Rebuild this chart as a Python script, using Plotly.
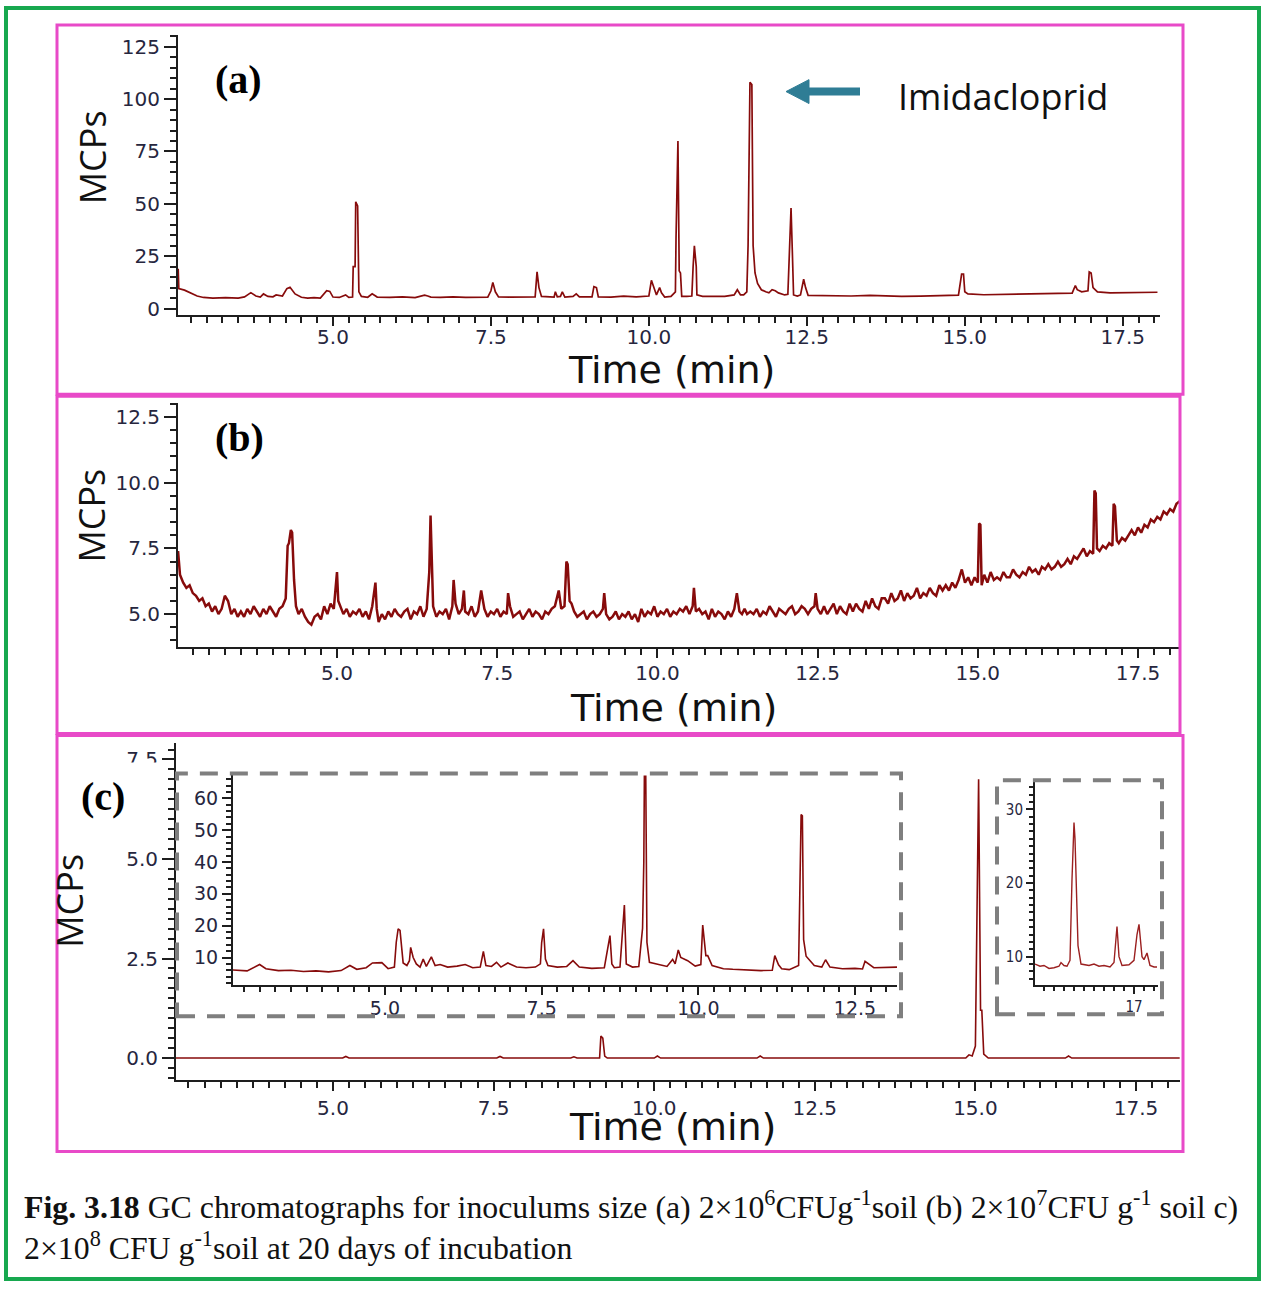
import plotly.graph_objects as go

# ---------------- data ----------------
# Panel (a): 2x10^6 CFU/g soil
a_time = [2.55, 2.56, 2.65, 2.75, 2.85, 2.95, 3.1, 3.3, 3.5, 3.6,
          3.7, 3.78, 3.85, 3.9, 3.97, 4.05, 4.1, 4.2, 4.27, 4.32,
          4.4, 4.5, 4.6, 4.7, 4.8, 4.9, 4.95, 5.0, 5.1, 5.2,
          5.25, 5.31, 5.32, 5.35, 5.36, 5.39, 5.41, 5.45, 5.55, 5.62,
          5.7, 5.9, 6.1, 6.3, 6.45, 6.5, 6.55, 6.7, 6.9, 7.1,
          7.3, 7.45, 7.5, 7.53, 7.57, 7.62, 7.8, 8.0, 8.1, 8.2,
          8.23, 8.26, 8.3, 8.5, 8.52, 8.55, 8.6, 8.63, 8.67, 8.8,
          8.85, 8.9, 9.1, 9.13, 9.17, 9.2, 9.4, 9.6, 9.8, 10.0,
          10.04, 10.08, 10.12, 10.17, 10.2, 10.25, 10.35, 10.42, 10.43, 10.46,
          10.48, 10.5, 10.52, 10.6, 10.68, 10.7, 10.72, 10.75, 10.76, 10.85,
          11.0, 11.2, 11.35, 11.4, 11.45, 11.5, 11.55, 11.57, 11.6, 11.63,
          11.65, 11.68, 11.72, 11.78, 11.85, 11.9, 11.95, 12.0, 12.05, 12.15,
          12.2, 12.22, 12.25, 12.27, 12.29, 12.35, 12.4, 12.45, 12.48, 12.52,
          12.7, 12.95, 13.2, 13.5, 13.8, 14.0, 14.3, 14.6, 14.9, 14.95,
          14.98, 15.0, 15.05, 15.3, 15.6, 15.9, 16.2, 16.5, 16.7, 16.75,
          16.78, 16.85, 16.95, 16.97, 17.0, 17.03, 17.1, 17.3, 17.6, 17.9,
          18.05]
a_mcps = [19, 9.5, 8.8, 7.5, 6.0, 5.3, 5.0, 5.2, 5.0, 5.6,
          7.6, 6.0, 5.5, 7.0, 5.8, 5.6, 6.5, 6.0, 9.5, 10.2,
          7.0, 5.4, 5.0, 5.2, 5.0, 8.5, 8.2, 5.5, 5.3, 6.5,
          5.3, 5.5, 20, 20, 51, 49, 8, 5.8, 5.4, 7.0,
          5.5, 5.3, 5.6, 5.2, 6.4, 6.0, 5.5, 5.3, 5.6, 5.3,
          5.6, 5.5, 8.5, 12.5, 8, 5.6, 5.5, 5.6, 5.3, 5.6,
          17.5, 10, 5.8, 5.5, 8.0, 5.6, 5.8, 8.0, 5.5, 5.8,
          7.0, 5.6, 5.6, 10.5, 10, 5.6, 5.5, 5.9, 5.6, 6.0,
          13.5, 10, 6.5, 10, 7.5, 5.5, 5.8, 8, 34, 80,
          18, 17, 5.8, 5.8, 6, 20, 30, 20, 6.5, 5.8,
          5.8, 5.8, 6.5, 9, 6.5, 6.5, 8, 30, 108, 107,
          30, 17, 12, 9, 8, 7.5, 9, 8.5, 7.5, 6.5,
          6.8, 28, 48, 28, 6.5, 6.0, 6.5, 14, 10, 6.3,
          6.2, 6.4, 6.0, 6.3, 6.0, 5.8, 5.9, 6.0, 6.4, 16.5,
          16.5, 8, 7.0, 6.6, 6.8, 7.0, 7.1, 7.3, 7.4, 11,
          9, 8, 8.5, 17.5, 17, 10, 8.0, 7.5, 7.5, 7.5,
          7.8]

# Panel (b): 2x10^7 CFU/g soil (noisy baseline, read segment by segment)
b_time = [2.52, 2.55, 2.60, 2.65, 2.70, 2.75, 2.80, 2.85, 2.90, 2.95, 3.00, 3.05, 3.10, 3.15, 3.20, 3.25, 3.30, 3.35, 3.40, 3.45,
          3.50, 3.55, 3.60, 3.65, 3.70, 3.75, 3.80, 3.85, 3.90, 3.95, 4.00, 4.05, 4.10, 4.15, 4.20, 4.23, 4.25, 4.28, 4.30, 4.33, 4.36, 4.40, 4.45,
          4.50, 4.55, 4.60, 4.65, 4.70, 4.75, 4.80, 4.85, 4.90, 4.95, 4.98, 5.00, 5.02, 5.05, 5.10, 5.15, 5.20, 5.25, 5.30, 5.35, 5.40, 5.45,
          5.50, 5.55, 5.58, 5.60, 5.62, 5.65, 5.70, 5.75, 5.80, 5.85, 5.90, 5.95, 6.00, 6.05, 6.10, 6.15, 6.20, 6.25, 6.30, 6.35, 6.40, 6.44, 6.46, 6.48, 6.50,
          6.55, 6.60, 6.65, 6.70, 6.75, 6.80, 6.82, 6.85, 6.90, 6.95, 6.98, 7.00, 7.05, 7.10, 7.15, 7.20, 7.25, 7.30, 7.35, 7.40, 7.45,
          7.50, 7.55, 7.60, 7.65, 7.67, 7.70, 7.75, 7.80, 7.85, 7.90, 7.95, 8.00, 8.05, 8.10, 8.15, 8.20, 8.25, 8.30, 8.35, 8.40, 8.46, 8.50,
          8.55, 8.58, 8.60, 8.63, 8.66, 8.70, 8.75, 8.80, 8.85, 8.90, 8.95, 9.00, 9.05, 9.10, 9.15, 9.17, 9.20, 9.25, 9.30, 9.35, 9.40, 9.45,
          9.50, 9.55, 9.60, 9.65, 9.70, 9.75, 9.80, 9.85, 9.90, 9.95, 10.00, 10.05, 10.10, 10.15, 10.20, 10.25, 10.30, 10.35, 10.40, 10.45, 10.50,
          10.55, 10.57, 10.60, 10.65, 10.70, 10.75, 10.80, 10.85, 10.90, 10.95, 11.00, 11.05, 11.10, 11.15, 11.20, 11.24, 11.28, 11.32, 11.36, 11.40, 11.45,
          11.50, 11.55, 11.60, 11.65, 11.70, 11.75, 11.80, 11.85, 11.90, 11.95, 12.00, 12.05, 12.10, 12.15, 12.20, 12.25, 12.30, 12.35, 12.40, 12.45, 12.47, 12.50,
          12.55, 12.60, 12.65, 12.70, 12.75, 12.80, 12.85, 12.90, 12.95, 13.00, 13.05, 13.10, 13.15, 13.20, 13.25, 13.30, 13.35, 13.40, 13.45, 13.50,
          13.55, 13.60, 13.65, 13.70, 13.75, 13.80, 13.85, 13.90, 13.95, 14.00, 14.05, 14.10, 14.15, 14.20, 14.25, 14.30, 14.35, 14.40, 14.45, 14.50,
          14.55, 14.60, 14.65, 14.70, 14.75, 14.80, 14.85, 14.90, 14.95, 15.00, 15.02, 15.04, 15.06, 15.10, 15.15, 15.20, 15.25, 15.30, 15.35, 15.40, 15.45,
          15.50, 15.55, 15.60, 15.65, 15.70, 15.75, 15.80, 15.85, 15.90, 15.95, 16.00, 16.05, 16.10, 16.15, 16.20, 16.25, 16.30, 16.35, 16.40, 16.45,
          16.50, 16.55, 16.60, 16.65, 16.70, 16.75, 16.80, 16.82, 16.84, 16.86, 16.90, 16.95, 17.00, 17.05, 17.10, 17.12, 17.14, 17.17, 17.20, 17.25, 17.30, 17.35, 17.40, 17.45,
          17.50, 17.55, 17.60, 17.65, 17.70, 17.75, 17.80, 17.85, 17.90, 17.95, 18.00, 18.05, 18.10, 18.15]
b_mcps = [7.4, 6.5, 6.2, 6.0, 6.1, 5.8, 5.7, 5.5, 5.6, 5.3, 5.4, 5.1, 5.3, 5.0, 5.2, 5.7, 5.5, 5.0, 5.2, 4.9,
          5.1, 4.9, 5.2, 5.0, 5.3, 5.1, 4.9, 5.2, 5.0, 5.3, 5.1, 4.9, 5.2, 5.3, 5.6, 7.6, 7.7, 8.2, 8.1, 6.3, 5.3, 5.0, 5.2,
          4.9, 4.7, 4.6, 4.9, 5.0, 4.8, 5.3, 5.0, 5.4, 5.2, 6.0, 6.6, 5.5, 5.3, 5.0, 5.2, 4.9, 5.1, 5.0, 5.2, 4.9, 5.1,
          4.8, 5.3, 5.9, 6.2, 5.2, 4.7, 5.0, 4.8, 5.1, 4.9, 5.2, 5.0, 4.9, 5.1, 5.2, 4.8, 5.1, 5.0, 5.3, 4.9, 5.2, 6.6, 8.75, 6.6, 5.3,
          4.9, 5.1, 5.0, 5.2, 4.8, 5.3, 6.3, 5.4, 5.0, 5.2, 5.9, 5.1, 5.0, 5.3, 4.9, 5.1, 5.9, 5.2, 4.9, 5.1, 5.0,
          5.2, 4.9, 5.1, 5.0, 5.8, 5.3, 4.9, 5.0, 5.1, 4.8, 5.0, 5.2, 4.9, 5.1, 5.0, 4.8, 5.1, 5.0, 5.2, 5.3, 5.9, 5.2,
          5.3, 7.0, 6.9, 5.5, 5.4, 5.1, 4.9, 5.0, 5.1, 4.8, 5.0, 5.1, 4.9, 5.0, 5.2, 5.8, 5.0, 4.8, 4.9, 5.1, 4.8, 5.0,
          4.9, 5.1, 4.8, 5.0, 4.7, 5.2, 4.9, 5.1, 5.0, 5.3, 4.9, 5.1, 5.0, 5.2, 4.9, 5.1, 5.0, 5.2, 5.1, 5.3, 5.0,
          5.3, 6.0, 5.1, 5.2, 5.0, 5.1, 4.8, 5.2, 4.9, 5.1, 5.0, 4.8, 5.1, 4.9, 5.2, 5.8, 5.1, 5.0, 5.2, 5.0, 5.1,
          5.0, 5.2, 4.9, 5.1, 5.0, 5.3, 5.1, 4.9, 5.2, 5.1, 5.0, 5.2, 5.3, 5.0, 5.1, 5.3, 5.2, 5.0, 5.2, 5.3, 5.8, 5.2,
          5.0, 5.3, 5.0, 5.2, 5.4, 5.0, 5.3, 5.1, 5.0, 5.4, 5.1, 5.4, 5.2, 5.1, 5.5, 5.2, 5.6, 5.3, 5.2, 5.6,
          5.6, 5.4, 5.8, 5.5, 5.6, 5.9, 5.5, 5.8, 5.6, 5.7, 6.0, 5.6, 5.8, 5.7, 6.0, 5.8, 5.7, 6.1, 5.9, 6.1,
          5.9, 6.2, 6.0, 6.3, 6.7, 6.2, 6.4, 6.1, 6.4, 6.2, 8.45, 8.4, 6.1, 6.5, 6.2, 6.6, 6.3, 6.4, 6.3, 6.6, 6.4,
          6.4, 6.7, 6.5, 6.4, 6.6, 6.5, 6.8, 6.6, 6.7, 6.5, 6.8, 6.7, 6.9, 6.7, 6.8, 7.0, 6.8, 6.9, 7.1, 6.9,
          7.2, 7.1, 7.3, 7.5, 7.2, 7.4, 7.3, 9.7, 9.6, 7.5, 7.4, 7.6, 7.5, 7.7, 7.6, 9.2, 9.1, 7.8, 7.7, 7.9, 7.8, 8.0, 8.2, 8.0,
          8.3, 8.1, 8.4, 8.3, 8.6, 8.5, 8.7, 8.6, 8.9, 8.8, 9.0, 8.9, 9.2, 9.3]

# Panel (c): 2x10^8 CFU/g soil, full scale
c_time = [2.556, 5.15, 5.2, 5.25, 7.55, 7.6, 7.65, 8.7, 8.75, 8.8,
          9.15, 9.17, 9.2, 9.23, 9.27, 10.0, 10.05, 10.1, 11.6, 11.65,
          11.7, 14.85, 14.9, 14.95, 15.0, 15.03, 15.05, 15.08, 15.1, 15.13,
          15.2, 16.4, 16.45, 16.5, 18.18]
c_mcps = [0, 0, 0.04, 0, 0, 0.04, 0, 0, 0.03, 0,
          0, 0.55, 0.5, 0.05, 0, 0, 0.05, 0, 0, 0.05,
          0, 0, 0.08, 0.05, 0.3, 4.6, 7.0, 1.2, 1.2, 0.1,
          0, 0, 0.05, 0, 0]

# Panel (c) inset 1 (zoom of 2.5-13 min)
i1_time = [2.57, 2.8, 3.0, 3.1, 3.3, 3.5, 3.7, 3.9, 4.1, 4.3,
           4.44, 4.55, 4.7, 4.8, 4.95, 5.05, 5.15, 5.18, 5.21, 5.24,
           5.29, 5.35, 5.39, 5.41, 5.45, 5.5, 5.56, 5.61, 5.66, 5.74,
           5.8, 5.88, 6.0, 6.15, 6.28, 6.4, 6.52, 6.57, 6.61, 6.7,
           6.78, 6.85, 6.96, 7.1, 7.25, 7.4, 7.48, 7.5, 7.53, 7.56,
           7.6, 7.75, 7.9, 8.0, 8.1, 8.3, 8.5, 8.56, 8.59, 8.62,
           8.66, 8.75, 8.8, 8.82, 8.85, 8.95, 9.05, 9.11, 9.13, 9.14,
           9.16, 9.18, 9.22, 9.37, 9.5, 9.59, 9.63, 9.68, 9.72, 9.83,
           9.95, 10.04, 10.07, 10.12, 10.15, 10.22, 10.4, 10.55, 10.8, 11.0,
           11.18, 11.22, 11.28, 11.33, 11.45, 11.6, 11.64, 11.66, 11.68, 11.72,
           11.85, 11.97, 12.03, 12.1, 12.3, 12.5, 12.62, 12.66, 12.8, 13.0,
           13.17]
i1_mcps = [6.1, 5.8, 7.8, 6.5, 5.9, 6.0, 5.6, 5.8, 5.5, 5.9,
           7.5, 6.3, 6.8, 8.3, 8.4, 6.5, 7.0, 14.8, 19.0, 18.5,
           8.3, 7.5, 9.0, 13.2, 10.0, 8.0, 7.0, 9.5, 7.2, 10.2,
           7.5, 7.8, 7.0, 7.3, 7.8, 6.8, 7.0, 11.9, 7.5, 7.2,
           8.5, 7.0, 8.3, 7.0, 6.8, 7.0, 8.0, 14.7, 19.0, 9.5,
           7.5, 7.0, 7.2, 9.0, 7.0, 6.6, 6.8, 13.8, 16.9, 8.0,
           6.8, 7.0, 19.5, 26.5, 8.0, 7.0, 7.2, 19.2, 40, 70,
           70, 14.8, 8.5, 7.8, 7.2, 9.4, 8.0, 12.4, 10.0, 9.0,
           7.3, 7.8, 20.2, 10.6, 10.6, 7.5, 6.5, 6.3, 6.0, 5.9,
           6.0, 10.6, 7.7, 6.5, 6.2, 7.5, 54.9, 54.5, 15.6, 10.4,
           7.5, 7.0, 9.3, 7.0, 6.5, 6.6, 6.4, 8.8, 6.8, 7.0,
           7.0]

# Panel (c) inset 2 (zoom near 17 min)
i2_time = [16.01, 16.06, 16.10, 16.15, 16.20, 16.25, 16.27, 16.30, 16.33, 16.36,
           16.38, 16.40, 16.41, 16.43, 16.44, 16.47, 16.55, 16.60, 16.65, 16.70,
           16.76, 16.80, 16.83, 16.85, 16.88, 16.95, 17.00, 17.03, 17.05, 17.08,
           17.10, 17.13, 17.16, 17.20, 17.23]
i2_mcps = [9.0, 8.7, 8.8, 8.4, 8.5, 8.7, 9.2, 8.8, 8.7, 9.5,
           20.5, 28.2, 26.0, 18.2, 11.5, 9.0, 8.8, 9.0, 8.7, 8.8,
           8.6, 9.2, 14.1, 10.0, 8.8, 8.9, 9.5, 13.0, 14.4, 10.0,
           9.6, 10.5, 8.8, 8.6, 8.6]

for n, (t, v) in {"a": (a_time, a_mcps), "b": (b_time, b_mcps), "c": (c_time, c_mcps),
                  "i1": (i1_time, i1_mcps), "i2": (i2_time, i2_mcps)}.items():
    if len(t) != len(v):
        raise ValueError(f"length mismatch in {n}: {len(t)} vs {len(v)}")

# ---------------- styling / geometry ----------------
W, H = 1265, 1290
def px(x): return x / W
def py(y): return 1 - y / H

TRACE = "#870b0b"
AXC = "#1e1e1e"
TICKC = "#26263e"
PINK = "#e84ac8"
GREEN = "#17a84f"
TEAL = "#2f7d95"
GRAY = "#7f7f7f"

fig = go.Figure()
fig.add_trace(go.Scatter(x=a_time, y=a_mcps, mode="lines", line=dict(color=TRACE, width=1.7), xaxis="x", yaxis="y"))
fig.add_trace(go.Scatter(x=b_time, y=b_mcps, mode="lines", line=dict(color=TRACE, width=2.5), xaxis="x2", yaxis="y2"))
fig.add_trace(go.Scatter(x=c_time, y=c_mcps, mode="lines", line=dict(color=TRACE, width=1.6), xaxis="x3", yaxis="y3"))
fig.add_trace(go.Scatter(x=i1_time, y=i1_mcps, mode="lines", line=dict(color=TRACE, width=1.6), xaxis="x4", yaxis="y4"))
fig.add_trace(go.Scatter(x=i2_time, y=i2_mcps, mode="lines", line=dict(color="#9b2020", width=1.4), xaxis="x5", yaxis="y5"))


def axis(dom, rng, anchor, dtick, mdtick, fsize, tlen, mlen, fmt, family, standoff):
    return dict(domain=dom, range=rng, anchor=anchor,
                showline=True, linewidth=2, linecolor=AXC, ticks="outside",
                ticklen=tlen, tickwidth=2, tickcolor=AXC, tick0=0, dtick=dtick,
                tickformat=fmt, showgrid=False, zeroline=False, ticklabelstandoff=standoff,
                tickfont=dict(family=family, size=fsize, color=TICKC),
                minor=dict(dtick=mdtick, ticks="outside", ticklen=mlen, tickwidth=1.5,
                           tickcolor=AXC, showgrid=False),
                fixedrange=True)


def xax(d, rng, anchor, dtick, mdtick, fsize=20, tlen=9, mlen=6, fmt=".1f",
        family="DejaVu Sans", standoff=0):
    return axis([px(d[0]), px(d[1])], rng, anchor, dtick, mdtick, fsize, tlen, mlen, fmt, family, standoff)


def yax(d, rng, anchor, dtick, mdtick, fsize=20, tlen=12, mlen=6, fmt=".1f",
        family="DejaVu Sans", standoff=0):
    return axis([py(d[1]), py(d[0])], rng, anchor, dtick, mdtick, fsize, tlen, mlen, fmt, family, standoff)


COND = "DejaVu Sans Condensed, DejaVu Sans"
fig.update_layout(
    width=W, height=H, margin=dict(l=0, r=0, t=0, b=0),
    paper_bgcolor="white", plot_bgcolor="rgba(0,0,0,0)", showlegend=False,
    xaxis=xax((178, 1160), [2.547, 18.09], "y", 2.5, 0.25, standoff=-6),
    yaxis=yax((35, 316), [-2.85, 130.7], "x", 25, 5, fmt="d"),
    xaxis2=xax((178, 1180), [2.519, 18.155], "y2", 2.5, 0.25, standoff=-2),
    yaxis2=yax((405, 650), [3.75, 13.03], "x2", 2.5, 0.5),
    xaxis3=xax((176, 1180), [2.556, 18.185], "y3", 2.5, 0.25),
    yaxis3=yax((746, 1085), [-0.55, 7.925], "x3", 2.5, 0.25),
    xaxis4=xax((233, 897), [2.575, 13.17], "y4", 2.5, 0.25, fsize=19, tlen=8, mlen=5, standoff=-3),
    yaxis4=yax((779, 990), [1.25, 67.2], "x4", 10, 2, fsize=19, tlen=9, mlen=5, fmt="d"),
    xaxis5=xax((1035, 1158), [16.01, 17.24], "y5", 1, 0.1, fsize=15, tlen=7, mlen=4, fmt="d", family=COND),
    yaxis5=yax((785, 990), [6.1, 33.8], "x5", 10, 1, fsize=15, tlen=7, mlen=4, fmt="d", family=COND),
)

shapes = []
def rect(x0, y0, x1, y1, color, width, dash="solid", layer="above"):
    shapes.append(dict(type="rect", xref="paper", yref="paper", x0=px(x0), x1=px(x1),
                       y0=py(y1), y1=py(y0), line=dict(color=color, width=width, dash=dash),
                       fillcolor="rgba(0,0,0,0)", layer=layer))

rect(6, 8, 1259, 1285, GREEN, 4)
rect(57, 25, 1183, 396, PINK, 3)
rect(57, 398, 1180, 737, PINK, 3)
rect(57, 739, 1183, 1157, PINK, 3)
# inset frames
rect(177, 777, 901, 1021, GRAY, 4, dash="18px,12px")
rect(997, 784, 1162, 1019, GRAY, 4, dash="18px,12px")
# white mask that cuts the "7.5" label of panel (c) under the inset frame
shapes.append(dict(type="rect", xref="paper", yref="paper", x0=px(110), x1=px(168),
                   y0=py(777), y1=py(766), line=dict(width=0), fillcolor="white", layer="above"))
# arrow pointing at the Imidacloprid peak
shapes.append(dict(type="line", xref="paper", yref="paper", x0=px(805), x1=px(860),
                   y0=py(92), y1=py(92), line=dict(color=TEAL, width=8)))
shapes.append(dict(type="path", xref="paper", yref="paper",
                   path=f"M {px(786)},{py(92)} L {px(809)},{py(80)} L {px(809)},{py(104)} Z",
                   fillcolor=TEAL, line=dict(color=TEAL, width=1)))
fig.update_layout(shapes=shapes)

ann = []
def text(x, y, s, size, family, color="#111111", angle=0, xanchor="center", yanchor="middle"):
    ann.append(dict(x=px(x), y=py(y), xref="paper", yref="paper", text=s, showarrow=False,
                    font=dict(size=size, family=family, color=color), textangle=angle,
                    xanchor=xanchor, yanchor=yanchor))

SERIF = "Liberation Serif, Times New Roman, serif"
SANS = "Open Sans, sans-serif"
text(238, 80, "<b>(a)</b>", 40, SERIF, "#000000")
text(240, 440, "<b>(b)</b>", 40, SERIF, "#000000")
text(103, 800, "<b>(c)</b>", 40, SERIF, "#000000")
text(1003, 97, "Imidacloprid", 36, SANS)
for (x, y) in [(671, 372), (673, 711), (672, 1132)]:
    text(x, y, "Time (min)", 38, "DejaVu Sans, sans-serif")
for (x, y) in [(92, 158), (92, 518), (70, 905)]:
    text(x, y, "MCPs", 36, SANS, angle=-90)

text(22, 1211, "<b>Fig. 3.18</b> GC chromatographs for inoculums size (a) 2×10<sup>6</sup>CFUg<sup>-1</sup>soil "
     "(b) 2×10<sup>7</sup>CFU g<sup>-1</sup> soil c)", 31.8, SERIF, "#111111", xanchor="left")
text(22, 1252, "2×10<sup>8</sup> CFU g<sup>-1</sup>soil at 20 days of incubation", 31.8, SERIF,
     "#111111", xanchor="left")
fig.update_layout(annotations=ann)

fig.write_html("out.html", config={"displayModeBar": False},
               post_script="document.body.style.margin='0px';document.body.style.overflow='hidden';")
